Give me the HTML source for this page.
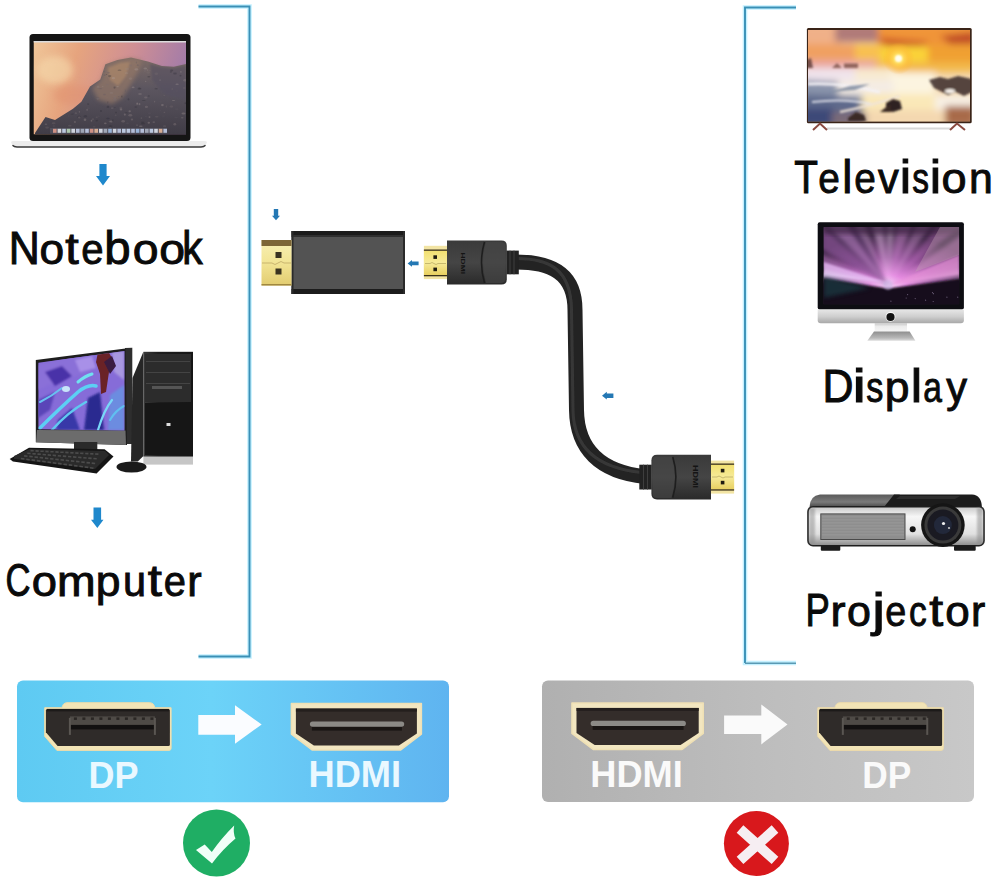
<!DOCTYPE html>
<html><head><meta charset="utf-8">
<style>
html,body{margin:0;padding:0;background:#fff;}
body{width:994px;height:888px;overflow:hidden;position:relative;}
svg{position:absolute;left:0;top:0;}
text{font-family:"Liberation Sans",sans-serif;}
</style></head>
<body>
<svg width="994" height="888" viewBox="0 0 994 888">
<defs>
  <filter id="b1" x="-20%" y="-20%" width="140%" height="140%"><feGaussianBlur stdDeviation="1"/></filter>
  <filter id="b2" x="-30%" y="-30%" width="160%" height="160%"><feGaussianBlur stdDeviation="2"/></filter>
  <filter id="b3" x="-50%" y="-50%" width="200%" height="200%"><feGaussianBlur stdDeviation="3.5"/></filter>
  <filter id="b05"><feGaussianBlur stdDeviation="0.5"/></filter>
  <clipPath id="lapClip"><rect x="33.5" y="41" width="152.5" height="93.5"/></clipPath>
  <clipPath id="monClip"><polygon points="38.4,362.7 124.5,351 124.5,430.6 38.4,429.3"/></clipPath>
  <clipPath id="tvClip"><rect x="808" y="30" width="162" height="91.5"/></clipPath>
  <clipPath id="imacClip"><rect x="823.6" y="227" width="135.6" height="77.2"/></clipPath>
  <linearGradient id="lapSky" x1="0" y1="0" x2="1" y2="0.2">
    <stop offset="0" stop-color="#f0c79a"/>
    <stop offset="0.3" stop-color="#e6a47e"/>
    <stop offset="0.65" stop-color="#cf8f94"/>
    <stop offset="1" stop-color="#a47ca8"/>
  </linearGradient>
  <linearGradient id="lapMtn" x1="0" y1="0" x2="0" y2="1">
    <stop offset="0" stop-color="#7e6c66"/>
    <stop offset="0.4" stop-color="#5c5660"/>
    <stop offset="1" stop-color="#403c46"/>
  </linearGradient>
  <linearGradient id="silver" x1="0" y1="0" x2="0" y2="1">
    <stop offset="0" stop-color="#f0f0f0"/>
    <stop offset="0.6" stop-color="#c4c4c4"/>
    <stop offset="1" stop-color="#606060"/>
  </linearGradient>
  <linearGradient id="chin" x1="0" y1="0" x2="0" y2="1">
    <stop offset="0" stop-color="#e6e6e6"/>
    <stop offset="0.5" stop-color="#cfcfcf"/>
    <stop offset="1" stop-color="#a8a8a8"/>
  </linearGradient>
  <linearGradient id="tvSky" x1="0" y1="0" x2="0" y2="1">
    <stop offset="0" stop-color="#d98a6a"/>
    <stop offset="0.18" stop-color="#eea050"/>
    <stop offset="0.38" stop-color="#f6b448"/>
    <stop offset="0.45" stop-color="#e8a888"/>
    <stop offset="0.55" stop-color="#f0d4c4"/>
    <stop offset="0.7" stop-color="#f6e6d6"/>
    <stop offset="0.85" stop-color="#eed4b0"/>
    <stop offset="1" stop-color="#c89a78"/>
  </linearGradient>
  <radialGradient id="sun" cx="0.5" cy="0.5" r="0.5">
    <stop offset="0" stop-color="#fffce0"/>
    <stop offset="0.25" stop-color="#ffe060"/>
    <stop offset="0.6" stop-color="#ffc040" stop-opacity="0.6"/>
    <stop offset="1" stop-color="#ffb030" stop-opacity="0"/>
  </radialGradient>
  <radialGradient id="imacGlow" cx="0.48" cy="0.75" r="0.65">
    <stop offset="0" stop-color="#ffe0ff"/>
    <stop offset="0.2" stop-color="#e48ae0"/>
    <stop offset="0.55" stop-color="#8a4a90"/>
    <stop offset="1" stop-color="#3a2442"/>
  </radialGradient>
  <linearGradient id="blueBox" x1="0" y1="0" x2="1" y2="0">
    <stop offset="0" stop-color="#5ecaf2"/>
    <stop offset="0.45" stop-color="#6cd3f8"/>
    <stop offset="1" stop-color="#5fb4f0"/>
  </linearGradient>
  <linearGradient id="grayBox" x1="0" y1="0" x2="1" y2="0">
    <stop offset="0" stop-color="#b0b0b0"/>
    <stop offset="0.5" stop-color="#bdbdbd"/>
    <stop offset="1" stop-color="#c8c8c8"/>
  </linearGradient>
  <linearGradient id="gold" x1="0" y1="0" x2="0" y2="1">
    <stop offset="0" stop-color="#f8f0b4"/>
    <stop offset="0.5" stop-color="#f2e494"/>
    <stop offset="1" stop-color="#e2cc70"/>
  </linearGradient>
  <linearGradient id="plug" x1="0" y1="0" x2="0" y2="1">
    <stop offset="0" stop-color="#3a3a3a"/>
    <stop offset="0.5" stop-color="#454545"/>
    <stop offset="1" stop-color="#2a2a2a"/>
  </linearGradient>
  <linearGradient id="tower" x1="0" y1="0" x2="1" y2="0">
    <stop offset="0" stop-color="#3a3a3a"/>
    <stop offset="0.3" stop-color="#1e1e1e"/>
    <stop offset="1" stop-color="#151515"/>
  </linearGradient>
  <linearGradient id="projBody" x1="0" y1="0" x2="0" y2="1">
    <stop offset="0" stop-color="#c8c8c8"/>
    <stop offset="0.25" stop-color="#f6f6f6"/>
    <stop offset="0.7" stop-color="#e0e0e0"/>
    <stop offset="1" stop-color="#8a8a8a"/>
  </linearGradient>
  <linearGradient id="projTop" x1="0" y1="0" x2="1" y2="0">
    <stop offset="0" stop-color="#6a6a6a"/>
    <stop offset="0.45" stop-color="#3a3a3a"/>
    <stop offset="0.5" stop-color="#222"/>
    <stop offset="1" stop-color="#1a1a1a"/>
  </linearGradient>

  <g id="dpConn">
    <path d="M-1.2,-1.2 H16 Q17,-6 21,-6.2 H104 Q108,-6 109,-1.2 H125.2 V39.5 Q125.2,41.5 123,41.5 H11 L-1.2,27.5 Z" fill="#f2e4b6" stroke="#eedcaa" stroke-width="1" stroke-linejoin="round"/>
    <path d="M1.5,0 H122.5 Q124,0 124,1.5 V35.5 Q124,37 122.5,37 H11.7 L0,23.3 V1.5 Q0,0 1.5,0 Z" fill="#2f2b29"/>
    <rect x="1" y="0" width="122" height="2.5" fill="#1c1a19"/>
    <rect x="24" y="7.5" width="85" height="9" fill="#4e4a46"/>
    <g fill="#2a2624">
      <rect x="28" y="8.5" width="3" height="2.5"/><rect x="36.5" y="8.5" width="3" height="2.5"/><rect x="45" y="8.5" width="3" height="2.5"/>
      <rect x="53.5" y="8.5" width="3" height="2.5"/><rect x="62" y="8.5" width="3" height="2.5"/><rect x="70.5" y="8.5" width="3" height="2.5"/>
      <rect x="79" y="8.5" width="3" height="2.5"/><rect x="87.5" y="8.5" width="3" height="2.5"/><rect x="96" y="8.5" width="3" height="2.5"/><rect x="104.5" y="8.5" width="3" height="2.5"/>
    </g>
    <rect x="24" y="16" width="85" height="4.5" fill="#121010"/>
    <rect x="23" y="9" width="2" height="17" fill="#5a5652"/>
    <rect x="108" y="9" width="2" height="17" fill="#5a5652"/>
  </g>
  <g id="hdmiConn">
    <path d="M-4.5,-5 H125.5 V25.5 L104.5,41.5 H16.5 L-4.5,25.5 Z" fill="#f2e6c0" stroke="#efe0b4" stroke-width="1.5" stroke-linejoin="round"/>
    <path d="M0,0 H121 V25 L103,37 H18 L0,25 Z" fill="#342d2a"/>
    <rect x="0" y="0" width="121" height="3" fill="#241f1d"/>
    <rect x="16" y="18" width="90" height="4" fill="#1a1614"/>
    <rect x="14" y="12.8" width="94.3" height="5.3" rx="2.6" fill="#8c8a86"/>
  </g>
  <linearGradient id="gold2" x1="0" y1="0" x2="0" y2="1">
    <stop offset="0" stop-color="#f2e070"/>
    <stop offset="0.5" stop-color="#f6ea98"/>
    <stop offset="1" stop-color="#e8d060"/>
  </linearGradient>
  <linearGradient id="projTopL" x1="0" y1="0" x2="0" y2="1">
    <stop offset="0" stop-color="#5a5a5a"/>
    <stop offset="0.6" stop-color="#7a7a7a"/>
    <stop offset="1" stop-color="#4a4a4a"/>
  </linearGradient>
  <linearGradient id="neck" x1="0" y1="0" x2="0" y2="1">
    <stop offset="0" stop-color="#c8c8c8"/>
    <stop offset="0.4" stop-color="#ececec"/>
    <stop offset="1" stop-color="#f4f4f4"/>
  </linearGradient>
  <linearGradient id="foot" x1="0" y1="0" x2="0" y2="1">
    <stop offset="0" stop-color="#8e8e8e"/>
    <stop offset="0.7" stop-color="#b8b8b8"/>
    <stop offset="1" stop-color="#dcdcdc"/>
  </linearGradient>
</defs>

<!-- brackets -->

<g fill="none" stroke-linejoin="miter">
<path d="M198.5,6.5 H249.5 V656.5 H198.5" stroke="#c4f0ff" stroke-width="4.6"/>
<path d="M796,7.5 H745 V663 H796" stroke="#c4f0ff" stroke-width="4.6"/>
<path d="M198.5,6.5 H249.5 V656.5 H198.5" stroke="#3a90b6" stroke-width="1.9"/>
<path d="M796,7.5 H745 V663" stroke="#3a90b6" stroke-width="1.9"/>
<path d="M745,663.2 H796" stroke="#5a9ab4" stroke-width="1.4"/>
</g>

<!-- ============ laptop ============ -->
<rect x="29.5" y="34" width="161" height="107" rx="3.5" fill="#151515"/>
<g clip-path="url(#lapClip)">
  <rect x="33.5" y="41" width="152.5" height="93.5" fill="url(#lapSky)"/>
  <ellipse cx="55" cy="70" rx="18" ry="14" fill="#f6dcae" opacity="0.6" filter="url(#b3)"/>
  <ellipse cx="75" cy="95" rx="22" ry="10" fill="#e09070" opacity="0.5" filter="url(#b3)"/>
  <polygon points="35,133 45.5,117 55,120 73,108.7 81.4,101.8 90,86.4 100.3,79.6 105.4,64.2 117.4,60 131,57.4 148,61.6 161.8,65.9 173.8,66.8 186,64 186,134.5 35,134.5" fill="url(#lapMtn)"/>
  <polygon points="92,88 101,80 106,65 118,61 131,58 142,60 138,72 130,86 122,98 112,104 98,100" fill="#947868" opacity="0.7" filter="url(#b2)"/><polygon points="108,68 120,63 130,62 126,76 118,86 110,80" fill="#b08a6a" opacity="0.6" filter="url(#b1)"/>
  <polygon points="150,64 162,67 174,68 186,65 186,100 165,95 152,80" fill="#555060" opacity="0.6" filter="url(#b1)"/>
  <g filter="url(#b05)" opacity="0.5"><ellipse cx="136.4" cy="62.5" rx="0.7" ry="1.0" fill="#5e5660" opacity="0.6"/><ellipse cx="159.4" cy="76.9" rx="1.6" ry="1.1" fill="#5e5660" opacity="0.6"/><ellipse cx="142.8" cy="122.5" rx="1.6" ry="0.9" fill="#2a2830" opacity="0.6"/><ellipse cx="109.7" cy="76.1" rx="1.7" ry="1.1" fill="#2a2830" opacity="0.6"/><ellipse cx="98.6" cy="116.3" rx="1.1" ry="0.9" fill="#5e5660" opacity="0.6"/><ellipse cx="123.2" cy="121.3" rx="1.8" ry="1.2" fill="#9a8c8c" opacity="0.6"/><ellipse cx="136.4" cy="69.4" rx="2.0" ry="1.1" fill="#b0a4a0" opacity="0.6"/><ellipse cx="120.9" cy="108.0" rx="1.5" ry="1.2" fill="#7a6e72" opacity="0.6"/><ellipse cx="107.8" cy="102.7" rx="0.7" ry="1.1" fill="#2a2830" opacity="0.6"/><ellipse cx="79.4" cy="111.8" rx="0.7" ry="0.9" fill="#9a8c8c" opacity="0.6"/><ellipse cx="85.0" cy="119.7" rx="1.3" ry="1.2" fill="#b0a4a0" opacity="0.6"/><ellipse cx="127.2" cy="68.9" rx="2.0" ry="0.7" fill="#9a8c8c" opacity="0.6"/><ellipse cx="165.1" cy="84.4" rx="1.1" ry="1.1" fill="#5e5660" opacity="0.6"/><ellipse cx="137.8" cy="65.2" rx="1.0" ry="0.9" fill="#5e5660" opacity="0.6"/><ellipse cx="143.1" cy="123.6" rx="2.0" ry="0.9" fill="#2a2830" opacity="0.6"/><ellipse cx="97.7" cy="98.6" rx="1.1" ry="0.9" fill="#9a8c8c" opacity="0.6"/><ellipse cx="173.5" cy="100.6" rx="1.6" ry="0.5" fill="#b0a4a0" opacity="0.6"/><ellipse cx="180.5" cy="75.6" rx="1.0" ry="0.9" fill="#2a2830" opacity="0.6"/><ellipse cx="149.5" cy="117.1" rx="1.0" ry="0.8" fill="#b0a4a0" opacity="0.6"/><ellipse cx="121.0" cy="109.5" rx="1.3" ry="1.0" fill="#b0a4a0" opacity="0.6"/><ellipse cx="137.4" cy="103.5" rx="0.7" ry="0.7" fill="#9a8c8c" opacity="0.6"/><ellipse cx="85.4" cy="116.3" rx="1.7" ry="1.2" fill="#2a2830" opacity="0.6"/><ellipse cx="75.9" cy="113.1" rx="1.3" ry="0.6" fill="#9a8c8c" opacity="0.6"/><ellipse cx="156.8" cy="116.7" rx="1.8" ry="0.7" fill="#7a6e72" opacity="0.6"/><ellipse cx="128.5" cy="99.3" rx="1.0" ry="1.1" fill="#2a2830" opacity="0.6"/><ellipse cx="98.0" cy="87.4" rx="0.6" ry="0.8" fill="#2a2830" opacity="0.6"/><ellipse cx="160.7" cy="101.6" rx="1.2" ry="1.2" fill="#5e5660" opacity="0.6"/><ellipse cx="175.0" cy="73.5" rx="1.8" ry="1.0" fill="#2a2830" opacity="0.6"/><ellipse cx="113.4" cy="78.2" rx="1.8" ry="1.1" fill="#b0a4a0" opacity="0.6"/><ellipse cx="164.6" cy="126.0" rx="1.7" ry="0.5" fill="#9a8c8c" opacity="0.6"/><ellipse cx="171.4" cy="106.6" rx="1.9" ry="1.1" fill="#7a6e72" opacity="0.6"/><ellipse cx="147.5" cy="70.0" rx="0.9" ry="0.5" fill="#b0a4a0" opacity="0.6"/><ellipse cx="53.9" cy="126.0" rx="1.3" ry="1.0" fill="#5e5660" opacity="0.6"/><ellipse cx="115.7" cy="115.2" rx="0.9" ry="0.7" fill="#7a6e72" opacity="0.6"/><ellipse cx="174.0" cy="92.1" rx="1.8" ry="0.5" fill="#5e5660" opacity="0.6"/><ellipse cx="114.6" cy="87.6" rx="1.1" ry="1.1" fill="#2a2830" opacity="0.6"/><ellipse cx="164.4" cy="112.3" rx="0.8" ry="0.5" fill="#9a8c8c" opacity="0.6"/><ellipse cx="182.2" cy="117.8" rx="1.3" ry="0.8" fill="#9a8c8c" opacity="0.6"/><ellipse cx="184.2" cy="88.0" rx="1.4" ry="1.0" fill="#7a6e72" opacity="0.6"/><ellipse cx="126.3" cy="112.8" rx="1.5" ry="0.5" fill="#2a2830" opacity="0.6"/><ellipse cx="129.7" cy="111.2" rx="1.2" ry="1.0" fill="#b0a4a0" opacity="0.6"/><ellipse cx="104.6" cy="75.2" rx="1.0" ry="0.9" fill="#5e5660" opacity="0.6"/><ellipse cx="156.3" cy="73.7" rx="1.8" ry="1.2" fill="#7a6e72" opacity="0.6"/><ellipse cx="91.5" cy="120.8" rx="0.8" ry="1.0" fill="#b0a4a0" opacity="0.6"/><ellipse cx="176.8" cy="109.2" rx="1.7" ry="1.0" fill="#5e5660" opacity="0.6"/><ellipse cx="145.8" cy="97.5" rx="1.7" ry="1.0" fill="#9a8c8c" opacity="0.6"/><ellipse cx="106.5" cy="74.5" rx="0.7" ry="0.6" fill="#2a2830" opacity="0.6"/><ellipse cx="162.4" cy="105.1" rx="1.4" ry="1.1" fill="#b0a4a0" opacity="0.6"/><ellipse cx="112.2" cy="108.1" rx="1.4" ry="0.6" fill="#9a8c8c" opacity="0.6"/><ellipse cx="118.6" cy="96.5" rx="0.9" ry="0.6" fill="#5e5660" opacity="0.6"/><ellipse cx="185.8" cy="103.2" rx="1.5" ry="1.0" fill="#2a2830" opacity="0.6"/><ellipse cx="110.5" cy="126.1" rx="1.8" ry="1.2" fill="#2a2830" opacity="0.6"/><ellipse cx="97.7" cy="97.8" rx="1.5" ry="0.9" fill="#5e5660" opacity="0.6"/><ellipse cx="108.0" cy="103.0" rx="0.8" ry="0.8" fill="#7a6e72" opacity="0.6"/><ellipse cx="108.0" cy="106.9" rx="1.4" ry="1.1" fill="#2a2830" opacity="0.6"/><ellipse cx="176.2" cy="117.6" rx="1.9" ry="0.7" fill="#5e5660" opacity="0.6"/><ellipse cx="141.5" cy="86.9" rx="1.4" ry="0.7" fill="#5e5660" opacity="0.6"/><ellipse cx="107.4" cy="84.8" rx="1.4" ry="0.7" fill="#7a6e72" opacity="0.6"/><ellipse cx="107.9" cy="118.5" rx="2.0" ry="0.8" fill="#2a2830" opacity="0.6"/><ellipse cx="125.4" cy="90.8" rx="0.6" ry="1.2" fill="#5e5660" opacity="0.6"/><ellipse cx="45.9" cy="124.3" rx="1.3" ry="0.7" fill="#9a8c8c" opacity="0.6"/><ellipse cx="137.0" cy="125.1" rx="0.9" ry="0.6" fill="#b0a4a0" opacity="0.6"/><ellipse cx="141.4" cy="118.1" rx="0.8" ry="0.5" fill="#b0a4a0" opacity="0.6"/><ellipse cx="74.9" cy="122.0" rx="1.1" ry="0.9" fill="#9a8c8c" opacity="0.6"/><ellipse cx="108.4" cy="72.7" rx="1.6" ry="0.8" fill="#5e5660" opacity="0.6"/><ellipse cx="100.3" cy="88.7" rx="1.9" ry="0.6" fill="#5e5660" opacity="0.6"/><ellipse cx="177.1" cy="84.2" rx="1.7" ry="0.7" fill="#b0a4a0" opacity="0.6"/><ellipse cx="137.1" cy="103.8" rx="0.8" ry="1.2" fill="#b0a4a0" opacity="0.6"/><ellipse cx="86.1" cy="97.6" rx="0.8" ry="0.8" fill="#5e5660" opacity="0.6"/><ellipse cx="88.2" cy="108.3" rx="1.6" ry="1.0" fill="#5e5660" opacity="0.6"/><ellipse cx="145.3" cy="68.5" rx="1.8" ry="1.0" fill="#b0a4a0" opacity="0.6"/><ellipse cx="53.6" cy="123.2" rx="1.9" ry="1.0" fill="#7a6e72" opacity="0.6"/><ellipse cx="133.1" cy="87.4" rx="1.5" ry="0.8" fill="#b0a4a0" opacity="0.6"/><ellipse cx="148.9" cy="96.0" rx="1.1" ry="0.7" fill="#2a2830" opacity="0.6"/><ellipse cx="92.9" cy="119.1" rx="1.3" ry="0.7" fill="#9a8c8c" opacity="0.6"/><ellipse cx="140.0" cy="94.0" rx="1.9" ry="0.8" fill="#b0a4a0" opacity="0.6"/><ellipse cx="110.2" cy="127.7" rx="1.0" ry="0.6" fill="#7a6e72" opacity="0.6"/><ellipse cx="144.8" cy="70.9" rx="1.4" ry="1.0" fill="#7a6e72" opacity="0.6"/><ellipse cx="94.1" cy="126.8" rx="1.4" ry="0.6" fill="#7a6e72" opacity="0.6"/><ellipse cx="114.7" cy="97.8" rx="1.8" ry="0.8" fill="#7a6e72" opacity="0.6"/><ellipse cx="79.2" cy="117.0" rx="1.8" ry="1.2" fill="#2a2830" opacity="0.6"/><ellipse cx="92.9" cy="96.7" rx="1.0" ry="0.8" fill="#5e5660" opacity="0.6"/><ellipse cx="114.9" cy="107.5" rx="0.6" ry="0.6" fill="#2a2830" opacity="0.6"/><ellipse cx="130.7" cy="65.5" rx="1.3" ry="0.9" fill="#7a6e72" opacity="0.6"/><ellipse cx="104.5" cy="71.5" rx="0.9" ry="1.1" fill="#5e5660" opacity="0.6"/><ellipse cx="174.8" cy="124.3" rx="1.4" ry="1.2" fill="#9a8c8c" opacity="0.6"/><ellipse cx="154.6" cy="101.6" rx="0.6" ry="0.9" fill="#9a8c8c" opacity="0.6"/><ellipse cx="111.4" cy="92.9" rx="1.9" ry="0.7" fill="#9a8c8c" opacity="0.6"/><ellipse cx="166.4" cy="106.6" rx="0.7" ry="1.1" fill="#7a6e72" opacity="0.6"/><ellipse cx="47.1" cy="127.6" rx="1.9" ry="1.1" fill="#7a6e72" opacity="0.6"/><ellipse cx="101.0" cy="111.0" rx="1.0" ry="1.1" fill="#2a2830" opacity="0.6"/><ellipse cx="96.7" cy="117.2" rx="1.1" ry="0.8" fill="#7a6e72" opacity="0.6"/><ellipse cx="139.4" cy="88.7" rx="1.9" ry="1.0" fill="#2a2830" opacity="0.6"/><ellipse cx="114.9" cy="99.8" rx="2.0" ry="1.1" fill="#7a6e72" opacity="0.6"/><ellipse cx="164.2" cy="95.4" rx="0.9" ry="0.6" fill="#7a6e72" opacity="0.6"/><ellipse cx="102.7" cy="86.5" rx="0.9" ry="0.5" fill="#9a8c8c" opacity="0.6"/><ellipse cx="109.5" cy="121.6" rx="0.9" ry="0.8" fill="#7a6e72" opacity="0.6"/><ellipse cx="124.8" cy="114.5" rx="1.0" ry="1.1" fill="#b0a4a0" opacity="0.6"/><ellipse cx="105.3" cy="123.3" rx="1.3" ry="0.9" fill="#b0a4a0" opacity="0.6"/><ellipse cx="184.9" cy="80.2" rx="1.6" ry="1.2" fill="#9a8c8c" opacity="0.6"/><ellipse cx="170.9" cy="72.0" rx="1.1" ry="0.8" fill="#2a2830" opacity="0.6"/><ellipse cx="88.1" cy="104.1" rx="1.0" ry="0.9" fill="#2a2830" opacity="0.6"/><ellipse cx="79.3" cy="117.5" rx="1.3" ry="0.9" fill="#9a8c8c" opacity="0.6"/><ellipse cx="116.0" cy="112.5" rx="0.8" ry="1.0" fill="#2a2830" opacity="0.6"/><ellipse cx="145.8" cy="116.5" rx="1.1" ry="0.6" fill="#5e5660" opacity="0.6"/><ellipse cx="156.1" cy="88.7" rx="1.7" ry="0.8" fill="#2a2830" opacity="0.6"/><ellipse cx="143.8" cy="100.4" rx="1.9" ry="0.5" fill="#2a2830" opacity="0.6"/><ellipse cx="139.5" cy="104.2" rx="0.9" ry="1.1" fill="#b0a4a0" opacity="0.6"/><ellipse cx="132.0" cy="119.5" rx="1.2" ry="1.1" fill="#9a8c8c" opacity="0.6"/><ellipse cx="145.7" cy="81.4" rx="0.6" ry="0.6" fill="#b0a4a0" opacity="0.6"/><ellipse cx="153.8" cy="122.1" rx="1.4" ry="0.6" fill="#b0a4a0" opacity="0.6"/><ellipse cx="69.7" cy="125.7" rx="1.8" ry="0.9" fill="#7a6e72" opacity="0.6"/><ellipse cx="111.2" cy="121.5" rx="1.7" ry="0.9" fill="#b0a4a0" opacity="0.6"/><ellipse cx="180.9" cy="71.9" rx="0.7" ry="0.8" fill="#b0a4a0" opacity="0.6"/><ellipse cx="68.6" cy="116.1" rx="0.8" ry="0.8" fill="#5e5660" opacity="0.6"/><ellipse cx="135.9" cy="107.0" rx="1.4" ry="0.8" fill="#2a2830" opacity="0.6"/><ellipse cx="124.8" cy="115.0" rx="0.8" ry="0.5" fill="#7a6e72" opacity="0.6"/><ellipse cx="148.8" cy="122.7" rx="1.2" ry="1.0" fill="#b0a4a0" opacity="0.6"/><ellipse cx="126.5" cy="73.0" rx="1.8" ry="0.5" fill="#b0a4a0" opacity="0.6"/><ellipse cx="148.2" cy="72.5" rx="1.8" ry="1.2" fill="#7a6e72" opacity="0.6"/><ellipse cx="127.4" cy="123.2" rx="1.8" ry="0.8" fill="#5e5660" opacity="0.6"/><ellipse cx="96.8" cy="120.6" rx="1.3" ry="0.9" fill="#2a2830" opacity="0.6"/><ellipse cx="106.3" cy="71.6" rx="1.0" ry="0.8" fill="#7a6e72" opacity="0.6"/><ellipse cx="87.1" cy="109.9" rx="0.8" ry="0.8" fill="#b0a4a0" opacity="0.6"/><ellipse cx="172.2" cy="89.1" rx="0.8" ry="1.0" fill="#7a6e72" opacity="0.6"/><ellipse cx="140.8" cy="126.3" rx="1.9" ry="0.8" fill="#b0a4a0" opacity="0.6"/><ellipse cx="176.9" cy="91.2" rx="0.9" ry="1.2" fill="#5e5660" opacity="0.6"/><ellipse cx="160.5" cy="110.3" rx="0.6" ry="0.6" fill="#5e5660" opacity="0.6"/><ellipse cx="115.2" cy="95.5" rx="1.9" ry="0.5" fill="#7a6e72" opacity="0.6"/><ellipse cx="183.5" cy="113.5" rx="2.0" ry="1.0" fill="#b0a4a0" opacity="0.6"/><ellipse cx="72.3" cy="114.1" rx="1.6" ry="0.7" fill="#2a2830" opacity="0.6"/><ellipse cx="185.4" cy="69.6" rx="0.9" ry="0.6" fill="#5e5660" opacity="0.6"/><ellipse cx="149.5" cy="113.3" rx="1.7" ry="0.7" fill="#5e5660" opacity="0.6"/><ellipse cx="104.5" cy="94.5" rx="1.3" ry="0.8" fill="#5e5660" opacity="0.6"/><ellipse cx="130.5" cy="78.6" rx="1.6" ry="1.2" fill="#9a8c8c" opacity="0.6"/><ellipse cx="117.6" cy="86.6" rx="1.2" ry="0.7" fill="#b0a4a0" opacity="0.6"/><ellipse cx="115.0" cy="98.4" rx="1.3" ry="0.8" fill="#7a6e72" opacity="0.6"/><ellipse cx="163.5" cy="115.9" rx="1.5" ry="0.5" fill="#5e5660" opacity="0.6"/><ellipse cx="121.8" cy="96.5" rx="0.8" ry="1.0" fill="#2a2830" opacity="0.6"/><ellipse cx="148.8" cy="76.7" rx="1.5" ry="0.8" fill="#2a2830" opacity="0.6"/><ellipse cx="112.7" cy="120.7" rx="0.9" ry="1.1" fill="#2a2830" opacity="0.6"/><ellipse cx="160.1" cy="80.1" rx="0.9" ry="0.5" fill="#b0a4a0" opacity="0.6"/><ellipse cx="98.0" cy="86.9" rx="1.3" ry="1.2" fill="#9a8c8c" opacity="0.6"/><ellipse cx="146.4" cy="106.9" rx="1.6" ry="1.1" fill="#9a8c8c" opacity="0.6"/><ellipse cx="130.3" cy="115.2" rx="1.9" ry="1.2" fill="#9a8c8c" opacity="0.6"/><ellipse cx="139.5" cy="88.2" rx="1.2" ry="0.7" fill="#2a2830" opacity="0.6"/><ellipse cx="119.5" cy="70.2" rx="1.9" ry="0.6" fill="#2a2830" opacity="0.6"/><ellipse cx="171.7" cy="70.5" rx="1.5" ry="1.0" fill="#2a2830" opacity="0.6"/><ellipse cx="149.7" cy="70.3" rx="1.5" ry="0.6" fill="#7a6e72" opacity="0.6"/></g>
  <rect x="33.5" y="41" width="152.5" height="1.5" fill="#dcdcdc"/>
  <g opacity="0.85"><rect x="50" y="128" width="117" height="5.5" fill="#6a6a78" opacity="0.5"/><rect x="53.0" y="128.8" width="3.6" height="4" fill="#e8a090"/><rect x="57.6" y="128.8" width="3.6" height="4" fill="#f4f4f4"/><rect x="62.2" y="128.8" width="3.6" height="4" fill="#d0e0f8"/><rect x="66.8" y="128.8" width="3.6" height="4" fill="#c0e0c0"/><rect x="71.4" y="128.8" width="3.6" height="4" fill="#e8eef8"/><rect x="76.0" y="128.8" width="3.6" height="4" fill="#c8d4f0"/><rect x="80.6" y="128.8" width="3.6" height="4" fill="#b0b8c8"/><rect x="85.2" y="128.8" width="3.6" height="4" fill="#c8d4f0"/><rect x="89.8" y="128.8" width="3.6" height="4" fill="#e8a090"/><rect x="94.4" y="128.8" width="3.6" height="4" fill="#f0c0a0"/><rect x="99.0" y="128.8" width="3.6" height="4" fill="#e8eef8"/><rect x="103.6" y="128.8" width="3.6" height="4" fill="#b0b8c8"/><rect x="108.2" y="128.8" width="3.6" height="4" fill="#a8c8f0"/><rect x="112.8" y="128.8" width="3.6" height="4" fill="#e8eef8"/><rect x="117.4" y="128.8" width="3.6" height="4" fill="#c8d4f0"/><rect x="122.0" y="128.8" width="3.6" height="4" fill="#d0e0f8"/><rect x="126.6" y="128.8" width="3.6" height="4" fill="#d0e0f8"/><rect x="131.2" y="128.8" width="3.6" height="4" fill="#c8d4f0"/><rect x="135.8" y="128.8" width="3.6" height="4" fill="#a8c8f0"/><rect x="140.4" y="128.8" width="3.6" height="4" fill="#c8d4f0"/><rect x="145.0" y="128.8" width="3.6" height="4" fill="#b0b8c8"/><rect x="149.6" y="128.8" width="3.6" height="4" fill="#d0e0f8"/><rect x="154.2" y="128.8" width="3.6" height="4" fill="#e8eef8"/><rect x="158.8" y="128.8" width="3.6" height="4" fill="#f0c0a0"/><rect x="163.4" y="128.8" width="3.6" height="4" fill="#c8d4f0"/></g>
</g>
<path d="M11,142.2 Q11,141 14,141 H204 Q207,141 207,142.2 L205.5,145.5 Q204.5,147 201,147 H17 Q13.5,147 12.5,145.5 Z" fill="#ececec"/><path d="M12.5,145.3 Q14,147 17,147 H201 Q204,147 205.5,145.3" fill="none" stroke="#3a3a3a" stroke-width="1.3"/>

<!-- arrows down -->
<path d="M99.4,164 h7.2 v12 h3.4 l-7,9.6 l-7,-9.6 h3.4 z" fill="#1f88cc"/>
<path d="M93.5,507.5 h7.6 v12.2 h2.4 l-6.2,8.4 l-6.3,-8.4 h2.5 z" fill="#1f88cc"/>

<!-- labels -->
<g font-size="46.5" fill="#0a0a0a" stroke="#0a0a0a" stroke-width="1"><!-- Notebook --><text transform="translate(8.78,264.3) scale(0.924,1.0)">N</text><text transform="translate(39.44,264.3) scale(0.952,0.91)">o</text><text transform="translate(65.37,264.3) scale(1.044,0.95)">t</text><text transform="translate(81.30,264.3) scale(0.862,0.91)">e</text><text transform="translate(104.25,264.3) scale(1.019,1.0)">b</text><text transform="translate(132.75,264.3) scale(0.997,0.91)">o</text><text transform="translate(159.15,264.3) scale(0.997,0.91)">o</text><text transform="translate(182.15,264.3) scale(0.877,1.0)">k</text></g>
<g font-size="46.5" fill="#0a0a0a" stroke="#0a0a0a" stroke-width="1"><!-- Computer --><text transform="translate(5.54,596.4) scale(0.744,1.0)">C</text><text transform="translate(31.80,596.4) scale(0.975,0.91)">o</text><text transform="translate(57.02,596.4) scale(0.997,0.91)">m</text><text transform="translate(95.73,596.4) scale(0.956,0.93)">p</text><text transform="translate(123.11,596.4) scale(0.891,0.91)">u</text><text transform="translate(147.63,596.4) scale(1.095,0.95)">t</text><text transform="translate(163.71,596.4) scale(0.857,0.91)">e</text><text transform="translate(187.33,596.4) scale(0.929,0.91)">r</text></g>
<g font-size="46.5" fill="#0a0a0a" stroke="#0a0a0a" stroke-width="1"><!-- Television --><text transform="translate(794.33,193.3) scale(0.833,1.0)">T</text><text transform="translate(818.35,193.3) scale(0.834,0.91)">e</text><text transform="translate(842.23,193.3) scale(0.979,1.0)">l</text><text transform="translate(854.25,193.3) scale(0.834,0.91)">e</text><text transform="translate(877.96,193.3) scale(0.894,0.91)">v</text><text transform="translate(899.68,193.3) scale(1.101,1.0)">i</text><text transform="translate(912.27,193.3) scale(0.720,0.91)">s</text><text transform="translate(929.77,193.3) scale(1.101,1.0)">i</text><text transform="translate(941.41,193.3) scale(0.970,0.91)">o</text><text transform="translate(968.95,193.3) scale(0.921,0.91)">n</text></g>
<g font-size="46.5" fill="#0a0a0a" stroke="#0a0a0a" stroke-width="1"><!-- Display --><text transform="translate(822.48,402.2) scale(0.922,1.0)">D</text><text transform="translate(852.57,402.2) scale(1.297,1.0)">i</text><text transform="translate(866.15,402.2) scale(0.735,0.91)">s</text><text transform="translate(884.73,402.2) scale(0.956,0.93)">p</text><text transform="translate(910.65,402.2) scale(1.101,1.0)">l</text><text transform="translate(923.18,402.2) scale(0.720,0.91)">a</text><text transform="translate(946.20,402.2) scale(0.894,0.93)">y</text></g>
<g font-size="46.5" fill="#0a0a0a" stroke="#0a0a0a" stroke-width="1"><!-- Projector --><text transform="translate(805.41,626.3) scale(0.784,1.0)">P</text><text transform="translate(830.60,626.3) scale(0.972,0.91)">r</text><text transform="translate(846.89,626.3) scale(0.925,0.91)">o</text><text transform="translate(872.20,626.3) scale(1.236,1.0)">j</text><text transform="translate(885.30,626.3) scale(0.811,0.91)">e</text><text transform="translate(908.99,626.3) scale(0.763,0.91)">c</text><text transform="translate(929.34,626.3) scale(1.078,0.95)">t</text><text transform="translate(945.35,626.3) scale(0.947,0.91)">o</text><text transform="translate(971.06,626.3) scale(0.920,0.91)">r</text></g>

<!-- ============ computer ============ -->
<g>
  <!-- monitor side bar -->
  <polygon points="125,348 132.3,347.8 132.3,444 125,444" fill="#2e2e2e"/>
  <!-- monitor bezel -->
  <polygon points="35.8,360 125.5,348.5 127,445 35.8,442.3" fill="#1e1e1e"/>
  <polygon points="37,430 125.5,430.6 126,445 36,442.3" fill="#6c6c6c"/>
  <g clip-path="url(#monClip)">
    <rect x="35" y="345" width="95" height="90" fill="#866cd8"/>
    <g filter="url(#b1)">
      <polygon points="38,365 70,356 95,352 90,372 60,380 38,390" fill="#8a70d8"/>
      <polygon points="45,372 62,366 72,376 55,386" fill="#4a30a8"/>
      <polygon points="75,360 92,356 96,368 80,372" fill="#a890e8"/>
      <polygon points="38,400 55,392 50,410 38,418" fill="#5a44b8"/>
      <polygon points="112,352 124,351 124,380 114,372" fill="#a898e0"/>
      <polygon points="110,395 124,385 124,430 108,430" fill="#6c8ce0"/>
      <polygon points="88,398 100,392 104,430 84,430" fill="#2a2a90"/>
      <polygon points="58,420 72,408 80,430 56,430" fill="#3838a8"/>
    </g>
    <g fill="none" stroke-linecap="round" filter="url(#b05)">
      <path d="M40,428 Q60,408 78,392 Q88,384 96,386" stroke="#5cd0f4" stroke-width="3.5"/>
      <path d="M52,430 Q68,412 86,402" stroke="#60c8f0" stroke-width="2.5"/>
      <path d="M40,402 Q52,396 62,388" stroke="#68c0f0" stroke-width="2"/>
      <path d="M78,382 Q85,376 92,374" stroke="#70e0f0" stroke-width="3"/>
      <path d="M98,430 Q104,410 112,400" stroke="#78d8f8" stroke-width="2.2"/>
      <path d="M110,420 Q116,410 124,406" stroke="#60c0f0" stroke-width="2"/>
    </g>
    <ellipse cx="66" cy="389" rx="4" ry="3" fill="#c8e4fa" filter="url(#b05)"/>
    <polygon points="98,352 108,351 113,360 109,372 106,392 101,394 100,374 96,362" fill="#6a2228" filter="url(#b05)"/>
    <polygon points="104,362 112,356 116,366 110,374" fill="#3a1a40" filter="url(#b05)"/>
  </g>
  <!-- stand -->
  <rect x="74" y="442" width="23.3" height="10" fill="#2a2a2a"/>
  <!-- keyboard -->
  <polygon points="9.7,459 29,447.7 104.6,449.3 113.5,456.6 96.6,473.5 12.9,461.4" fill="#151515"/>
  <polygon points="14,456 30,449 105,451 109,455 95,469 14,459" fill="#2a2a2a"/><g stroke="#555" stroke-width="1.6" opacity="0.8"><path d="M30.5,450.6 L33.7,450.8" /><path d="M35.5,450.9 L38.7,451.1" /><path d="M40.4,451.2 L43.7,451.3" /><path d="M45.4,451.4 L48.6,451.6" /><path d="M50.4,451.7 L53.6,451.8" /><path d="M55.4,451.9 L58.6,452.1" /><path d="M60.3,452.2 L63.6,452.3" /><path d="M65.3,452.4 L68.5,452.6" /><path d="M70.3,452.7 L73.5,452.9" /><path d="M75.2,453.0 L78.5,453.1" /><path d="M80.2,453.2 L83.4,453.4" /><path d="M85.2,453.5 L88.4,453.6" /><path d="M90.2,453.7 L93.4,453.9" /><path d="M95.1,454.0 L98.4,454.1" /><path d="M27.3,453.3 L30.6,453.5" /><path d="M32.4,453.7 L35.7,453.9" /><path d="M37.5,454.1 L40.8,454.3" /><path d="M42.6,454.5 L45.9,454.7" /><path d="M47.7,454.9 L51.0,455.2" /><path d="M52.7,455.3 L56.0,455.6" /><path d="M57.8,455.7 L61.1,456.0" /><path d="M62.9,456.1 L66.2,456.4" /><path d="M68.0,456.5 L71.3,456.8" /><path d="M73.1,456.9 L76.4,457.2" /><path d="M78.2,457.3 L81.5,457.6" /><path d="M83.3,457.7 L86.6,458.0" /><path d="M88.3,458.1 L91.6,458.4" /><path d="M93.4,458.5 L96.7,458.8" /><path d="M24.1,455.9 L27.5,456.2" /><path d="M29.3,456.4 L32.7,456.8" /><path d="M34.5,457.0 L37.9,457.4" /><path d="M39.7,457.5 L43.1,457.9" /><path d="M44.9,458.1 L48.3,458.5" /><path d="M50.1,458.7 L53.5,459.0" /><path d="M55.3,459.2 L58.7,459.6" /><path d="M60.5,459.8 L63.9,460.1" /><path d="M65.7,460.3 L69.1,460.7" /><path d="M70.9,460.9 L74.3,461.3" /><path d="M76.1,461.4 L79.5,461.8" /><path d="M81.3,462.0 L84.7,462.4" /><path d="M86.5,462.6 L89.9,462.9" /><path d="M91.7,463.1 L95.1,463.5" /><path d="M20.9,458.5 L24.4,459.0" /><path d="M26.3,459.2 L29.7,459.7" /><path d="M31.6,459.9 L35.0,460.4" /><path d="M36.9,460.6 L40.3,461.1" /><path d="M42.2,461.3 L45.7,461.8" /><path d="M47.5,462.0 L51.0,462.5" /><path d="M52.8,462.7 L56.3,463.2" /><path d="M58.1,463.4 L61.6,463.9" /><path d="M63.5,464.2 L66.9,464.6" /><path d="M68.8,464.9 L72.2,465.3" /><path d="M74.1,465.6 L77.5,466.0" /><path d="M79.4,466.3 L82.9,466.7" /><path d="M84.7,467.0 L88.2,467.4" /><path d="M90.0,467.7 L93.5,468.2" /></g>
  <!-- tower side -->
  <polygon points="132.5,378 143.4,351.8 143.4,456 137.8,461.4 131,461.4" fill="#262626"/>
  <!-- tower front -->
  <rect x="143.4" y="351.8" width="49.6" height="105" fill="url(#tower)"/>
  <rect x="145" y="354" width="46" height="48" fill="#2c2c2c"/>
  <rect x="146" y="361" width="44" height="1" fill="#444"/>
  <rect x="146" y="372" width="44" height="1" fill="#444"/>
  <rect x="146" y="383" width="44" height="1" fill="#444"/>
  <rect x="152" y="386" width="30" height="3" fill="#555"/>
  <rect x="145" y="403" width="46" height="52" fill="#161616"/>
  <rect x="166.5" y="423" width="4" height="3" fill="#ddd"/>
  <rect x="143.4" y="456.7" width="49.6" height="7.9" fill="#c6c6c6"/>
  <!-- mouse -->
  <ellipse cx="131.5" cy="467" rx="15" ry="5.5" fill="#1a1a1a"/>
</g>

<!-- ============ adapter ============ -->
<rect x="291.5" y="231" width="113.5" height="63" fill="#535353"/>
<rect x="291.5" y="231" width="113.5" height="4" fill="#1c1c1c"/>
<rect x="291.5" y="235" width="113.5" height="2" fill="#303030"/>
<rect x="291.5" y="289" width="113.5" height="5" fill="#1c1c1c"/>
<rect x="291.5" y="231" width="2" height="63" fill="#2a2a2a"/>
<rect x="403" y="231" width="2" height="63" fill="#2a2a2a"/>
<rect x="261.5" y="240" width="30" height="45.5" fill="url(#gold)"/>
<rect x="261.5" y="240" width="30" height="6" fill="#7d6636"/>
<rect x="261.5" y="284" width="30" height="1.5" fill="#a08840"/>
<path d="M262,263 h10 q3,3 6,0 q3,-3 6,0 h7" fill="none" stroke="#b8a060" stroke-width="0.7"/>
<rect x="275.5" y="252" width="6" height="6" fill="#3a3320"/>
<rect x="275.5" y="268.5" width="6" height="6" fill="#3a3320"/>
<path d="M273.8,209 h4.4 v6.8 h1.8 l-4,4.5 l-4,-4.5 h1.8 z" fill="#2478b4"/>
<path d="M407.6,263.4 l4.4,-3.4 v1.6 h6.6 v3.6 h-6.6 v1.6 z" fill="#2478b4"/>

<!-- ============ cable ============ -->
<path d="M516,262 C550,262 575,272 575,310 L576.5,410 C577,449 600,472 645,476.5" fill="none" stroke="#232323" stroke-width="15"/>
<path d="M516,258.5 C548,258.5 571,268 571.5,310 L573,410 C573.5,447 596,468 642,472.5" fill="none" stroke="#3e3e3e" stroke-width="3" opacity="0.8" filter="url(#b05)"/>

<!-- top HDMI plug -->
<rect x="423.9" y="245.8" width="23.5" height="33.3" fill="#f2e4a4"/>
<rect x="423.9" y="250.5" width="23.5" height="24.5" fill="url(#gold2)"/>
<rect x="423.9" y="249.5" width="23.5" height="1.3" fill="#3a3018"/>
<rect x="423.9" y="275" width="23.5" height="1.3" fill="#3a3018"/>
<rect x="433.4" y="255.3" width="3.6" height="3.6" fill="#1e1a10"/>
<rect x="433.4" y="267.6" width="3.6" height="3.6" fill="#1e1a10"/>
<path d="M425,263.5 h5 q2,-2 4,0 q2,2 4,0 h8" fill="none" stroke="#a89850" stroke-width="0.6"/>
<path d="M447,240.4 H501.5 Q506.8,240.4 506.8,245.7 V279.2 Q506.8,284.5 501.5,284.5 H447 Z" fill="url(#plug)"/>
<path d="M484.5,242 Q478.5,262.5 484.5,283" fill="none" stroke="#1e1e1e" stroke-width="1.6"/>
<path d="M486,242 Q480.5,262.5 486,283 H501 Q505.5,283 505.5,278 V247 Q505.5,242 501,242 Z" fill="#474747" opacity="0.6"/>
<text transform="translate(461,252.5) rotate(90)" font-size="6.2" font-weight="bold" textLength="21.5" lengthAdjust="spacingAndGlyphs" fill="#141414">HDMI</text>
<rect x="506.5" y="250.6" width="12.3" height="23.7" fill="#222"/>
<rect x="509.5" y="250.6" width="1" height="23.7" fill="#3e3e3e"/>
<rect x="513.5" y="250.6" width="1" height="23.7" fill="#3e3e3e"/>

<!-- bottom HDMI plug -->
<rect x="639.3" y="464.7" width="12.5" height="24.8" fill="#222"/>
<rect x="643" y="464.7" width="1" height="24.8" fill="#3e3e3e"/>
<rect x="647" y="464.7" width="1" height="24.8" fill="#3e3e3e"/>
<path d="M657,454.8 H711 V499.4 H657 Q651.4,499.4 651.4,493.8 V460.4 Q651.4,454.8 657,454.8 Z" fill="url(#plug)"/>
<path d="M672.8,457 Q679,477 672.8,497.5" fill="none" stroke="#1e1e1e" stroke-width="1.6"/>
<path d="M671.5,456.5 Q677.5,477 671.5,498 H657 Q652.6,498 652.6,493.5 V460.8 Q652.6,456.5 657,456.5 Z" fill="#474747" opacity="0.6"/>
<text transform="translate(693,465) rotate(90)" font-size="6.4" font-weight="bold" textLength="23" lengthAdjust="spacingAndGlyphs" fill="#141414">HDMI</text>
<rect x="711" y="460.6" width="23.1" height="33" fill="#f2e4a4"/>
<rect x="711" y="464.5" width="23.1" height="25" fill="url(#gold2)"/>
<rect x="711" y="463.5" width="23.1" height="1.3" fill="#3a3018"/>
<rect x="711" y="489.3" width="23.1" height="1.3" fill="#3a3018"/>
<rect x="720.8" y="468.8" width="3.6" height="3.6" fill="#1e1a10"/>
<rect x="720.8" y="480.8" width="3.6" height="3.6" fill="#1e1a10"/>
<path d="M712,477 h5 q2,-2 4,0 q2,2 4,0 h8" fill="none" stroke="#a89850" stroke-width="0.6"/>
<path d="M602,395.7 l4.8,-3.9 v1.7 h6.6 v4.4 h-6.6 v1.7 z" fill="#2478b4"/>

<!-- ============ TV ============ -->
<rect x="806.9" y="28.1" width="164.8" height="95.1" rx="1.5" fill="#3a2418"/>
<g clip-path="url(#tvClip)">
  <rect x="808" y="30" width="162" height="91.5" fill="#f4d8b0"/>
  <g filter="url(#b3)">
    <rect x="800" y="24" width="40" height="22" fill="#f0b088"/>
    <rect x="835" y="24" width="50" height="18" fill="#b07a78"/>
    <rect x="878" y="24" width="100" height="22" fill="#f09438"/>
    <polygon points="880,38 930,42 920,47 880,46" fill="#c84a28"/>
    <polygon points="940,36 975,32 975,44 950,44" fill="#c04a28"/>
    <rect x="800" y="44" width="60" height="16" fill="#f0a060"/>
    <rect x="855" y="44" width="30" height="16" fill="#f8c050"/>
    <rect x="880" y="46" width="50" height="18" fill="#fad238"/>
    <rect x="928" y="45" width="50" height="20" fill="#f0a030"/>
    <rect x="800" y="60" width="80" height="8" fill="#eaa8a0"/>
    <rect x="875" y="62" width="100" height="10" fill="#f2b848"/>
    <rect x="800" y="68" width="60" height="13" fill="#f0e4ec"/>
    <rect x="855" y="68" width="40" height="13" fill="#f8ead0"/>
    <rect x="890" y="72" width="45" height="22" fill="#fcf4e0"/>
    <polygon points="800,80 845,82 880,94 870,100 830,98 800,96" fill="#8a94ac"/>
    <rect x="838" y="80" width="55" height="15" fill="#f4ece4"/>
    <polygon points="800,94 840,96 872,102 862,112 830,118 800,120" fill="#5e6a8c"/>
    
    <rect x="862" y="94" width="75" height="18" fill="#fae8b8"/>
    <rect x="935" y="95" width="40" height="15" fill="#f8f0e4"/>
    <rect x="800" y="108" width="34" height="20" fill="#3c4a78"/>
    <rect x="832" y="112" width="40" height="16" fill="#7a6a78"/>
    <rect x="866" y="110" width="80" height="18" fill="#f4d8b0"/>
    <rect x="945" y="106" width="30" height="20" fill="#a86a48"/>
  </g>
  <g filter="url(#b1)" opacity="0.85"><path d="M808,84 Q840,82 880,92" stroke="#f4f2f6" stroke-width="3" fill="none"/><path d="M812,102 Q845,98 872,104" stroke="#e8e8f0" stroke-width="2" fill="none"/><path d="M840,112 Q870,106 900,96" stroke="#f0e4d8" stroke-width="2.5" fill="none"/></g>
  <circle cx="898.5" cy="58.5" r="16" fill="url(#sun)"/>
  <circle cx="898.5" cy="58.5" r="3.5" fill="#fffef0" filter="url(#b1)"/>
  <g filter="url(#b1)">
    <polygon points="806,60 811,58 813,68 806,68" fill="#5a3a34" opacity="0.8"/>
    <polygon points="832,68 837,63 842,68" fill="#7a5048" opacity="0.8"/>
    <rect x="844" y="63.5" width="14" height="4.5" fill="#7a5048" opacity="0.8"/>
    <polygon points="830,92 850,86 870,84 855,90" fill="#6a7890" opacity="0.7"/>
    <polygon points="929,80 940,77 948,79 958,76 972,79 972,92 964,96 956,92 948,95 940,91 934,88" fill="#3a2c2c" opacity="0.85"/>
    <ellipse cx="950" cy="91" rx="5" ry="2" fill="#f4eee8"/>
    <polygon points="886,103 893,99 900,101 902,109 893,112 886,110" fill="#2e2220"/>
    <polygon points="848,118 856,112 864,115 866,121 848,121" fill="#3a2a28"/>
    <polygon points="880,112 890,104 891,112" fill="#3a2a24"/>
  </g>
</g>
<rect x="827" y="127.5" width="123" height="2" fill="#d8d8d8"/>
<path d="M813,130 L820,123.5 L827,130" fill="none" stroke="#8a4a40" stroke-width="2"/>
<path d="M950,130 L957,123.5 L965,130" fill="none" stroke="#8a4a40" stroke-width="2"/>

<!-- ============ iMac ============ -->
<rect x="817.7" y="222.3" width="146.2" height="87.3" rx="2" fill="#0d0d12"/>
<g clip-path="url(#imacClip)">
  <rect x="823.6" y="227" width="135.6" height="77.2" fill="url(#imacGlow)"/>
  <polygon points="823.6,227 860,227 888,285 823.6,250" fill="#5a3a6a" opacity="0.6" filter="url(#b2)"/>
  <polygon points="823.6,262 888,283 823.6,276" fill="#f0d0ff" opacity="0.8" filter="url(#b1)"/>
  <polygon points="888,285 959,255 959,275" fill="#e890d8" opacity="0.7" filter="url(#b1)"/>
  <g filter="url(#b2)" opacity="1"><polygon points="888.3,285.5 760.8,258.5 758.3,276.3" fill="#f4e0ff" opacity="0.50"/><polygon points="888.3,285.5 770.2,229.8 762.0,252.3" fill="#d890e0" opacity="0.39"/><polygon points="888.3,285.5 790.4,198.6 773.2,223.2" fill="#c070c8" opacity="0.33"/><polygon points="888.3,285.5 813.9,178.2 795.5,193.6" fill="#e0a0e8" opacity="0.39"/><polygon points="888.3,285.5 841.5,163.9 825.2,171.5" fill="#f0c0f0" opacity="0.33"/><polygon points="888.3,285.5 877.5,155.4 853.9,159.6" fill="#f8d0f8" opacity="0.44"/><polygon points="888.3,285.5 901.8,155.9 883.8,155.3" fill="#ffe0ff" opacity="0.39"/><polygon points="888.3,285.5 936.4,163.8 907.5,156.0" fill="#e8a0e8" opacity="0.39"/><polygon points="888.3,285.5 963.7,178.9 942.9,166.9" fill="#f0b0f0" opacity="0.33"/><polygon points="888.3,285.5 988.7,202.1 971.7,185.1" fill="#d880d8" opacity="0.33"/><polygon points="888.3,285.5 1010.1,237.7 996.0,211.2" fill="#e890e0" opacity="0.39"/><polygon points="888.3,285.5 1017.0,263.4 1010.8,240.3" fill="#f0a0e8" opacity="0.33"/><polygon points="888.3,285.5 1018.3,276.3 1015.8,258.5" fill="#ffd0f8" opacity="0.28"/></g>
  <rect x="823.6" y="225" width="135.6" height="9" fill="#3a2440" opacity="0.7" filter="url(#b2)"/>
  <polygon points="815,277 888,288.5 965,278 965,310 815,310" fill="#140e1a" filter="url(#b1)"/>
  <polygon points="823.6,276 870,288 823.6,298" fill="#1a4850" opacity="0.55" filter="url(#b2)"/><circle cx="906.2" cy="298.0" r="0.6" fill="#a090b0" opacity="0.6"/><circle cx="915.2" cy="298.6" r="0.6" fill="#a090b0" opacity="0.6"/><circle cx="932.5" cy="292.7" r="0.6" fill="#a090b0" opacity="0.6"/><circle cx="890.9" cy="301.2" r="0.6" fill="#a090b0" opacity="0.6"/><circle cx="907.6" cy="294.6" r="0.6" fill="#a090b0" opacity="0.6"/><circle cx="957.7" cy="297.2" r="0.6" fill="#a090b0" opacity="0.6"/><circle cx="946.9" cy="297.2" r="0.6" fill="#a090b0" opacity="0.6"/><circle cx="933.5" cy="293.7" r="0.6" fill="#a090b0" opacity="0.6"/><circle cx="933.2" cy="301.5" r="0.6" fill="#a090b0" opacity="0.6"/><circle cx="925.6" cy="300.2" r="0.6" fill="#a090b0" opacity="0.6"/>
  <polygon points="940,227 959,227 959,255 915,272" fill="#c8a8b8" opacity="0.35"/>
  <circle cx="888" cy="285" r="5" fill="#c0b0e0" opacity="0.5" filter="url(#b1)"/>
</g>
<path d="M817.7,309.6 H963.9 V320.2 Q963.9,323.2 960.9,323.2 H820.7 Q817.7,323.2 817.7,320.2 Z" fill="url(#chin)"/>
<circle cx="890.5" cy="316.8" r="5" fill="#f4f4f4"/>
<circle cx="890.5" cy="317" r="4.1" fill="#111"/>
<rect x="874.7" y="323.2" width="32.3" height="8.3" fill="url(#neck)"/>
<path d="M874,331.5 H909.6 L915.4,340.7 H867.3 Z" fill="url(#foot)"/>

<!-- ============ projector ============ -->
<path d="M809.5,507 Q810,495.5 820,494.4 H900 L886,507 Z" fill="url(#projTopL)"/>
<path d="M894,494.4 H972 Q981.5,495 981.9,507 H884 Z" fill="#1c1c1c"/>
<path d="M900,496 H960 L955,499 H896 Z" fill="#3a3a3a" opacity="0.6"/>
<rect x="808" y="506.7" width="176" height="39" rx="5" fill="url(#projBody)" stroke="#1e1e1e" stroke-width="1.6"/>
<rect x="809" y="508" width="6" height="36" fill="#8a8a8a" opacity="0.5" filter="url(#b1)"/>
<rect x="977" y="508" width="6" height="36" fill="#8a8a8a" opacity="0.5" filter="url(#b1)"/>
<rect x="820.8" y="513.9" width="84.2" height="25.6" fill="#8e8e8e" stroke="#4a4a4a" stroke-width="1"/>
<g fill="#a0a0a0" opacity="0.8">
<rect x="822" y="516.5" width="82" height="0.8"/><rect x="822" y="519.5" width="82" height="0.8"/><rect x="822" y="522.5" width="82" height="0.8"/>
<rect x="822" y="525.5" width="82" height="0.8"/><rect x="822" y="528.5" width="82" height="0.8"/><rect x="822" y="531.5" width="82" height="0.8"/><rect x="822" y="534.5" width="82" height="0.8"/>
</g>
<circle cx="942.9" cy="525.1" r="21.8" fill="#151515"/>
<circle cx="942.9" cy="525.1" r="18.5" fill="#3a3a3a"/>
<circle cx="942.9" cy="525.1" r="15.5" fill="#1a1a22"/>
<circle cx="942.9" cy="525.1" r="9" fill="#22283a"/>
<circle cx="943.5" cy="523.5" r="1.6" fill="#f0f0f0"/>
<circle cx="949" cy="528" r="1.1" fill="#c8c8c8"/>
<circle cx="912.7" cy="529.3" r="3" fill="#111"/>
<rect x="820.8" y="545.7" width="19.5" height="5" rx="1" fill="#1a1a1a"/>
<rect x="954" y="545.7" width="21.7" height="5" rx="1" fill="#1a1a1a"/>

<!-- ============ bottom panels ============ -->
<rect x="17" y="680.6" width="432" height="121.6" rx="6" fill="url(#blueBox)"/>
<rect x="542" y="680.6" width="432" height="121.4" rx="6" fill="url(#grayBox)"/>

<!-- left DP -->
<use href="#dpConn" transform="translate(45.9,708.9)"/>
<!-- left arrow white -->
<path d="M198.3,715 H235 V705.2 L261.7,724.5 L235,743.8 V734.8 H198.3 Z" fill="#fafcff"/>
<!-- left HDMI -->
<use href="#hdmiConn" transform="translate(295.9,708.6)"/>
<text x="88.5" y="788" font-size="36" font-weight="bold" textLength="50" lengthAdjust="spacingAndGlyphs" fill="#eaf8ff">DP</text>
<text x="308.6" y="787.3" font-size="36" font-weight="bold" textLength="92.5" lengthAdjust="spacingAndGlyphs" fill="#eaf8ff">HDMI</text>

<!-- right HDMI -->
<use href="#hdmiConn" transform="translate(576.5,707.9) scale(1.01,1)"/>
<path d="M724.1,715.5 H761.3 V704.5 L787.5,724.5 L761.3,744.4 V734 H724.1 Z" fill="#fafafa"/>
<!-- right DP -->
<use href="#dpConn" transform="translate(819,708.9) scale(0.993,1)"/>
<text x="590.3" y="787.3" font-size="36" font-weight="bold" textLength="92.5" lengthAdjust="spacingAndGlyphs" fill="#fafafa">HDMI</text>
<text x="862.3" y="787.8" font-size="36" font-weight="bold" textLength="49" lengthAdjust="spacingAndGlyphs" fill="#fafafa">DP</text>

<!-- check -->
<circle cx="216.5" cy="843" r="33.5" fill="#1fae64"/>
<path d="M196,850 L204.7,844.5 L211.8,852 Q221,838.5 234.2,825.4 Q232.8,832.5 235.5,838.6 Q222,850 212,863.6 Z" fill="#f0fff8"/>
<!-- cross -->
<circle cx="756.4" cy="843.5" r="32.5" fill="#d8181c"/>
<path d="M740,829 L775,860.4 M775,829 L740,860.4" stroke="#f6eef2" stroke-width="10"/>
</svg>
</body></html>
